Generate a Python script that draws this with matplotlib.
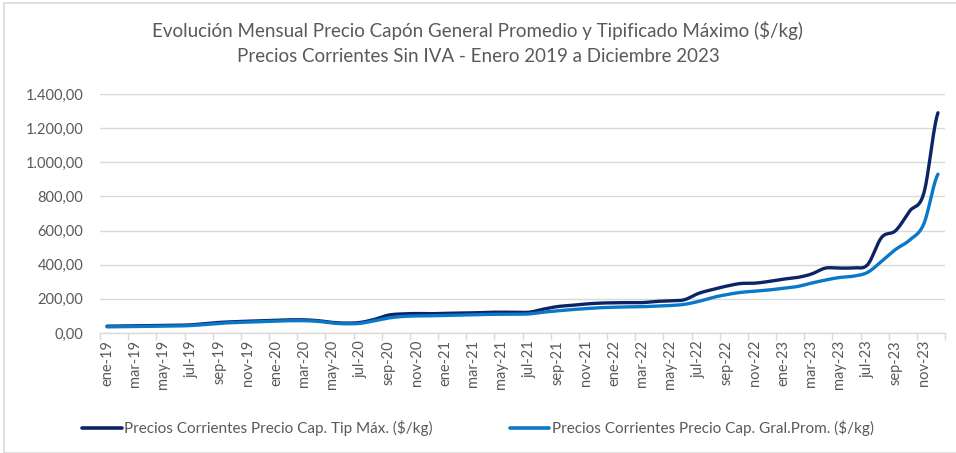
import numpy as np
import matplotlib
matplotlib.use("Agg")
import matplotlib.pyplot as plt
from matplotlib.ticker import FuncFormatter, FixedLocator
from matplotlib.patches import Rectangle

months = ["ene", "feb", "mar", "abr", "may", "jun", "jul", "ago", "sep", "oct", "nov", "dic"]
years = ["19", "20", "21", "22", "23"]
categories = [f"{m}-{y}" for y in years for m in months]

tip_max = [40, 41, 42, 43, 44, 45, 48, 55, 62, 66, 69, 72,
           75, 77, 77, 72, 62, 58, 62, 80, 105, 112, 114, 113,
           115, 117, 118, 121, 122, 121, 122, 140, 155, 162, 170, 175,
           177, 178, 178, 185, 188, 195, 232, 255, 275, 290, 292, 302,
           315, 325, 345, 380, 380, 382, 400, 560, 600, 715, 820, 1290]
gral_prom = [36, 37, 38, 39, 40, 41, 44, 50, 57, 61, 64, 67,
             70, 72, 72, 68, 58, 54, 57, 72, 88, 97, 100, 101,
             103, 105, 107, 109, 110, 110, 112, 122, 130, 137, 143, 148,
             151, 153, 154, 158, 161, 168, 185, 208, 225, 238, 245, 252,
             262, 272, 292, 310, 325, 333, 355, 420, 490, 545, 640, 930]

series_names = ["Precios Corrientes Precio Cap. Tip Máx. ($/kg)",
                "Precios Corrientes Precio Cap. Gral.Prom. ($/kg)"]
colors = ["#0B2466", "#0A78C8"]


def smooth(y, n=12):
    """Catmull-Rom style smoothing like Excel's smoothed lines."""
    y = np.asarray(y, float)
    x = np.arange(len(y), dtype=float)
    P = np.concatenate([[y[0]], y, [y[-1]]])
    xs, ys = [], []
    for i in range(len(y) - 1):
        p0, p1, p2, p3 = P[i], P[i + 1], P[i + 2], P[i + 3]
        t = np.linspace(0, 1, n, endpoint=False)
        yy = 0.5 * ((2 * p1) + (-p0 + p2) * t + (2 * p0 - 5 * p1 + 4 * p2 - p3) * t ** 2
                    + (-p0 + 3 * p1 - 3 * p2 + p3) * t ** 3)
        xs.append(x[i] + t)
        ys.append(yy)
    xs.append([x[-1]])
    ys.append([y[-1]])
    return np.concatenate(xs), np.concatenate(ys)


plt.rcParams['font.family'] = ['Lato', 'DejaVu Sans']
fig = plt.figure(figsize=(9.56, 4.53), dpi=100)
ax = fig.add_axes([100 / 956, 1 - 333 / 453, 845 / 956, 239 / 453])

fig.patches.append(Rectangle((4 / 956, 0), 1, 1 - 3 / 453, transform=fig.transFigure,
                             fill=False, edgecolor="#D9D9D9", linewidth=1.2))

for vals, c, name in zip([tip_max, gral_prom], colors, series_names):
    xs, ys = smooth(vals)
    ax.plot(xs, ys, color=c, linewidth=2.4, solid_capstyle="round", label=name)

ax.set_xlim(-0.5, len(categories) - 0.5)
ax.set_ylim(0, 1400)
ax.set_yticks(np.arange(0, 1401, 200))
ax.yaxis.set_major_formatter(FuncFormatter(
    lambda v, p: f"{v:,.2f}".replace(",", "X").replace(".", ",").replace("X", ".")))
ax.grid(axis="y", color="#D9D9D9", linewidth=1)
ax.set_axisbelow(True)
for s in ["top", "right", "left"]:
    ax.spines[s].set_visible(False)
ax.spines["bottom"].set_color("#D9D9D9")
ax.spines["bottom"].set_linewidth(1)

ax.set_xticks(range(0, len(categories), 2))
ax.set_xticklabels(categories[::2], rotation=90)
ax.xaxis.set_minor_locator(FixedLocator(np.arange(-0.5, len(categories), 2)))
ax.tick_params(axis="x", which="major", length=0, pad=5, labelsize=10.5, labelcolor="#595959")
ax.tick_params(axis="x", which="minor", length=5, color="#D9D9D9", width=1)
ax.tick_params(axis="y", length=0, pad=12, labelsize=10.5, labelcolor="#595959")

fig.text(0.5, 1 - 30 / 453, "Evolución Mensual Precio Capón General Promedio y Tipificado Máximo ($/kg)",
         ha="center", va="center", fontsize=13.5, color="#595959")
fig.text(0.5, 1 - 56 / 453, "Precios Corrientes Sin IVA - Enero 2019 a Diciembre 2023",
         ha="center", va="center", fontsize=13.5, color="#595959")

leg = fig.legend(loc="center", bbox_to_anchor=(0.5, 1 - 428 / 453), ncol=2, frameon=False,
                 fontsize=11, handlelength=2.6, handletextpad=0.15, columnspacing=5)
for line in leg.get_lines():
    line.set_linewidth(2.6)
for t in leg.get_texts():
    t.set_color("#595959")

fig.savefig("out.png", dpi=100)
